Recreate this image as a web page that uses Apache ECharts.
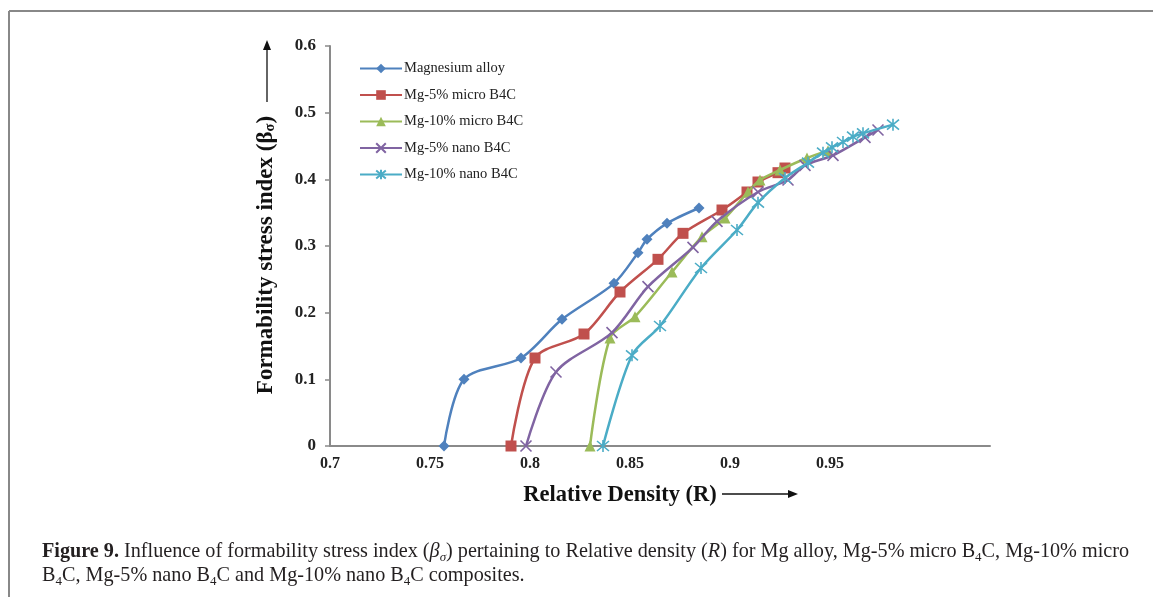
<!DOCTYPE html>
<html>
<head>
<meta charset="utf-8">
<script src="https://cdn.jsdelivr.net/npm/echarts@6/dist/echarts.min.js"></script>
<style>
  html, body { margin: 0; padding: 0; background: #fff; }
  #chart { width: 1153px; height: 597px; }
</style>
</head>
<body>
<div id="chart"></div>
<script>
// series names (legend order)
const seriesNames = ['Magnesium alloy', 'Mg-5% micro B4C', 'Mg-10% micro B4C', 'Mg-5% nano B4C', 'Mg-10% nano B4C'];

// relative density R (x) and formability stress index (y)
const alloyR = [0.757, 0.767, 0.7955, 0.816, 0.842, 0.854, 0.8585, 0.8685, 0.8845];
const alloyB = [0, 0.1, 0.132, 0.19, 0.244, 0.29, 0.31, 0.334, 0.357];

const micro5R = [0.7905, 0.8025, 0.827, 0.845, 0.864, 0.8765, 0.896, 0.9085, 0.914, 0.924, 0.9275];
const micro5B = [0, 0.132, 0.168, 0.231, 0.28, 0.319, 0.354, 0.381, 0.396, 0.41, 0.417];

const micro10R = [0.83, 0.84, 0.8525, 0.871, 0.886, 0.8975, 0.909, 0.915, 0.925, 0.9385, 0.949];
const micro10B = [0, 0.162, 0.194, 0.261, 0.314, 0.342, 0.381, 0.399, 0.414, 0.432, 0.443];

const nano5R = [0.798, 0.813, 0.841, 0.859, 0.8815, 0.8935, 0.914, 0.929, 0.9375, 0.9515, 0.9675, 0.974];
const nano5B = [0, 0.111, 0.17, 0.239, 0.298, 0.337, 0.381, 0.399, 0.421, 0.436, 0.463, 0.474];

const nano10R = [0.8365, 0.851, 0.865, 0.8855, 0.9035, 0.914, 0.9275, 0.939, 0.9465, 0.951, 0.9565, 0.9615, 0.9665, 0.9815];
const nano10B = [0, 0.136, 0.18, 0.267, 0.324, 0.365, 0.402, 0.425, 0.44, 0.448, 0.456, 0.464, 0.469, 0.482];

// x tick labels shown on the axis
const xTickLabels = ['0.7', '0.75', '0.8', '0.85', '0.9', '0.95'];

const colors = ['#4F81BD', '#C0504D', '#9BBB59', '#8064A2', '#4BACC6'];
const symbols = [
  'diamond',
  'rect',
  'triangle',
  'path://M0,0L10,10M10,0L0,10',
  'path://M0,0L10,10M10,0L0,10M5,-1L5,11'
];
const symbolSizes = [11, 11, 11, 11, 12];

function pairs(xs, ys) {
  return xs.map((x, i) => [x, ys[i]]);
}
const allData = [
  pairs(alloyR, alloyB),
  pairs(micro5R, micro5B),
  pairs(micro10R, micro10B),
  pairs(nano5R, nano5B),
  pairs(nano10R, nano10B)
];

const serif = '"Liberation Serif", "Times New Roman", serif';
const axisGray = '#8a8a8a';

const series = seriesNames.map((name, i) => ({
  name: name,
  type: 'line',
  smooth: 0.3,
  data: allData[i],
  symbol: symbols[i],
  symbolSize: symbolSizes[i],
  lineStyle: { color: colors[i], width: 2.5 },
  itemStyle: {
    color: colors[i],
    borderColor: colors[i],
    borderWidth: i >= 3 ? 1.6 : 0
  },
  emphasis: { disabled: true },
  z: 2 + i
}));

const chart = echarts.init(document.getElementById('chart'));
chart.setOption({
  backgroundColor: '#fff',
  animation: false,
  color: colors,
  title: {
    left: 37,
    top: 535,
    text: '{b|Figure 9.} Influence of formability stress index ({i|β}{isub|σ}) pertaining to Relative density ({i|R}) for Mg alloy, Mg-5% micro B{sub|4}C, Mg-10% micro\nB{sub|4}C, Mg-5% nano B{sub|4}C and Mg-10% nano B{sub|4}C composites.',
    textStyle: {
      fontFamily: serif,
      fontSize: 20.2,
      fontWeight: 'normal',
      color: '#231f20',
      lineHeight: 24,
      rich: {
        b: { fontFamily: serif, fontSize: 20.2, fontWeight: 'bold', color: '#231f20', lineHeight: 24 },
        i: { fontFamily: serif, fontSize: 20.2, fontStyle: 'italic', color: '#231f20', lineHeight: 24 },
        isub: { fontFamily: serif, fontSize: 13, fontStyle: 'italic', color: '#231f20', lineHeight: 16, verticalAlign: 'bottom' },
        sub: { fontFamily: serif, fontSize: 13, color: '#231f20', lineHeight: 16, verticalAlign: 'bottom' }
      }
    }
  },
  legend: {
    orient: 'vertical',
    left: 354,
    top: 56,
    itemWidth: 42,
    itemHeight: 12,
    itemGap: 11.5,
    data: seriesNames,
    textStyle: { fontFamily: serif, fontSize: 14.5, color: '#222', padding: [0, 0, 0, -3] }
  },
  grid: { left: 330, right: 163, top: 46, bottom: 151 },
  xAxis: {
    type: 'value',
    min: 0.7,
    max: 1.03,
    interval: 0.05,
    name: 'Relative Density (R)',
    nameLocation: 'middle',
    nameGap: 38,
    nameTextStyle: { fontFamily: serif, fontSize: 22.5, fontWeight: 'bold', color: '#111', padding: [0, 80, 0, 0] },
    axisLine: { lineStyle: { color: axisGray, width: 2 } },
    axisTick: { show: false },
    axisLabel: {
      fontFamily: serif, fontSize: 16, fontWeight: 'bold', color: '#222', margin: 10,
      formatter: function (v) {
        const s = String(Math.round(v * 100) / 100);
        return xTickLabels.indexOf(s) >= 0 ? s : '';
      }
    },
    splitLine: { show: false }
  },
  yAxis: {
    type: 'value',
    min: 0,
    max: 0.6,
    interval: 0.1,
    name: 'Formability stress index (β{s|σ})',
    nameLocation: 'middle',
    nameGap: 52,
    nameTextStyle: {
      fontFamily: serif, fontSize: 23, fontWeight: 'bold', color: '#111', padding: [0, 18, 0, 0],
      rich: {
        s: { fontFamily: serif, fontSize: 14.5, fontWeight: 'bold', color: '#111', lineHeight: 18, verticalAlign: 'bottom' }
      }
    },
    axisLine: { show: true, lineStyle: { color: axisGray, width: 2 } },
    axisTick: { show: true, inside: false, length: 5, lineStyle: { color: axisGray, width: 1.5 } },
    axisLabel: { fontFamily: serif, fontSize: 17, fontWeight: 'bold', color: '#222', margin: 14 },
    splitLine: { show: false }
  },
  graphic: [
    // outer frame (top and left edges)
    { type: 'line', shape: { x1: 9, y1: 11, x2: 1153, y2: 11 }, style: { stroke: '#888', lineWidth: 2 } },
    { type: 'line', shape: { x1: 9, y1: 11, x2: 9, y2: 597 }, style: { stroke: '#888', lineWidth: 2 } },
    // arrow after x axis name
    { type: 'line', shape: { x1: 722, y1: 494, x2: 790, y2: 494 }, style: { stroke: '#111', lineWidth: 1.3 } },
    { type: 'polygon', shape: { points: [[798, 494], [788, 490], [788, 498]] }, style: { fill: '#111' } },
    // arrow above y axis name
    { type: 'line', shape: { x1: 267, y1: 102, x2: 267, y2: 48 }, style: { stroke: '#111', lineWidth: 1.3 } },
    { type: 'polygon', shape: { points: [[267, 40], [263, 50], [271, 50]] }, style: { fill: '#111' } }
  ],
  series: series
});
</script>
</body>
</html>
